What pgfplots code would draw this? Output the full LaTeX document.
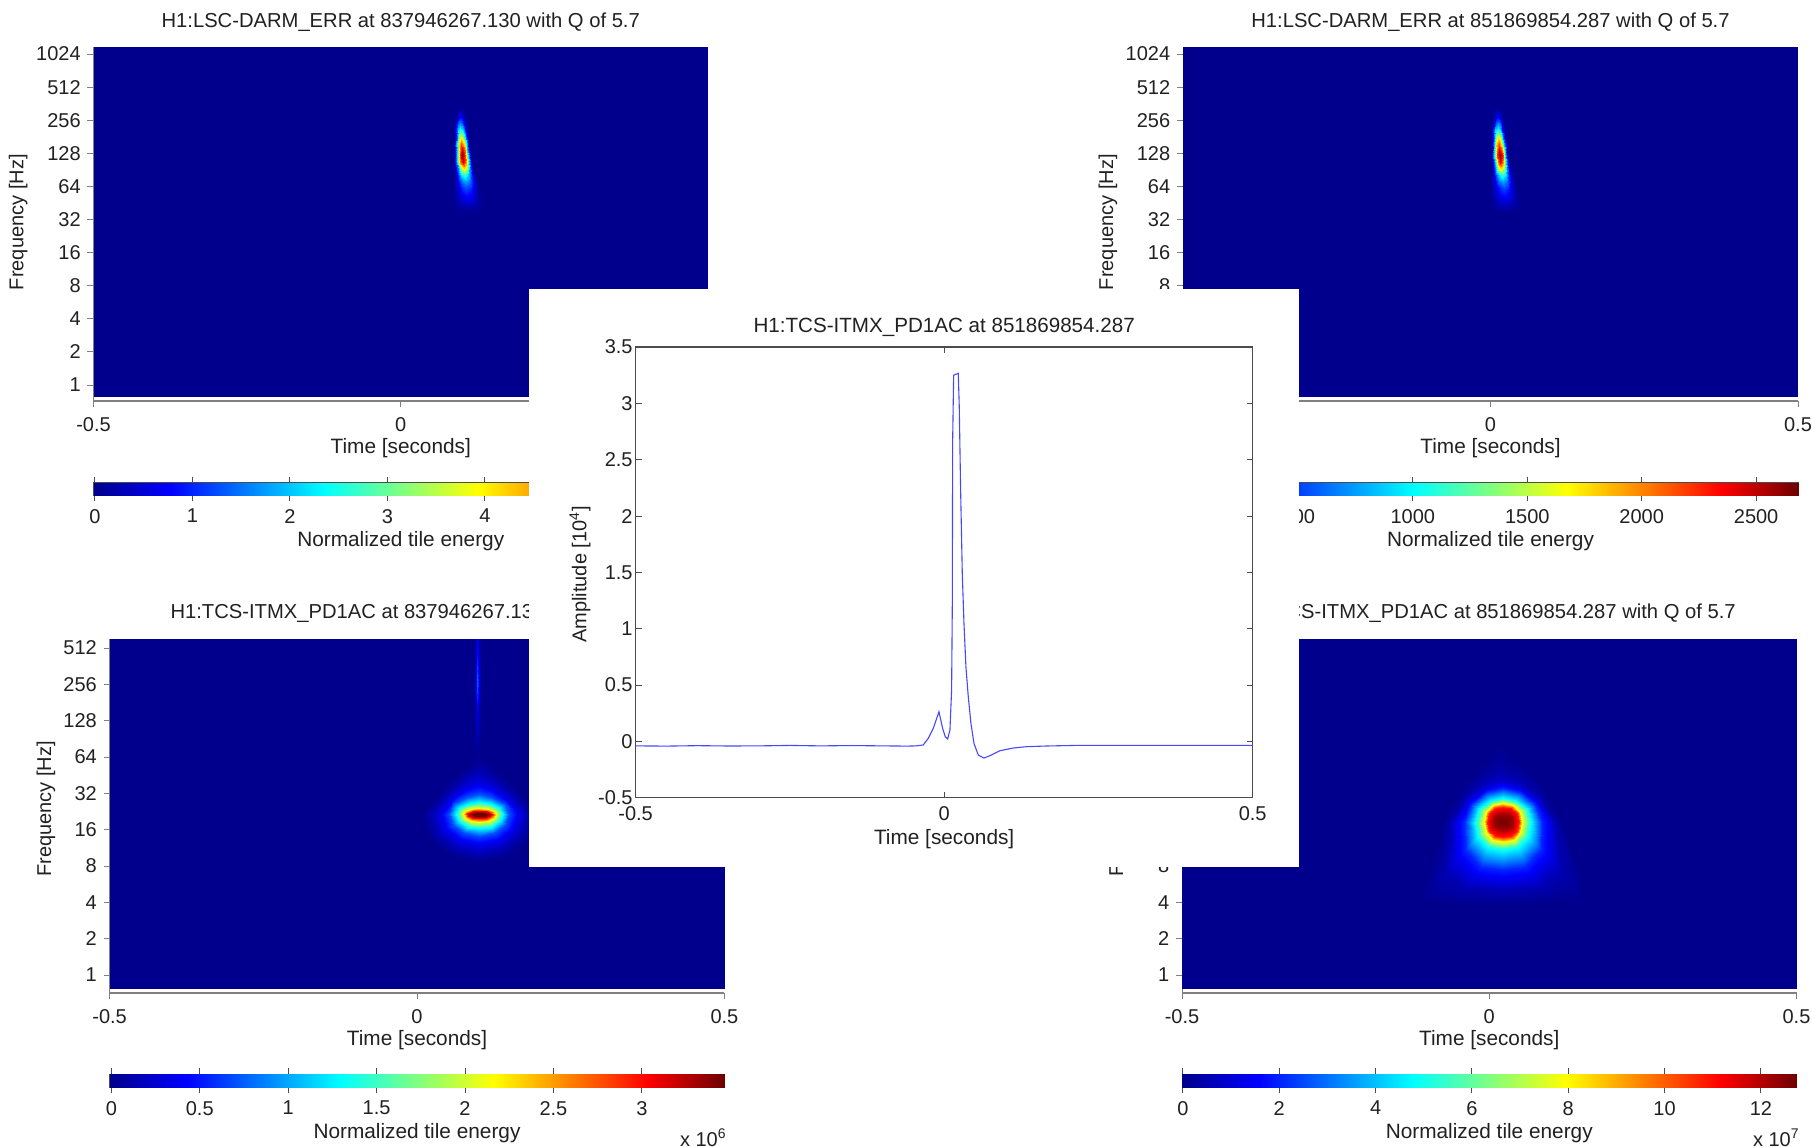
\documentclass[border=0pt]{standalone}
\usepackage{fontspec}
\setmainfont{Liberation Sans}
\usepackage{pgfplots}
\usepackage{pgfplotstable}
\pgfplotsset{compat=1.18}
\definecolor{axg}{gray}{0.5}
\definecolor{txt}{gray}{0.13}
\newcommand{\lblfont}{\fontsize{10.4}{12}\selectfont}
\pgfplotsset{
 colormap={jm}{rgb255(0cm)=(0,0,140); rgb255(1cm)=(0,0,255); rgb255(3cm)=(0,255,255); rgb255(5cm)=(255,255,0); rgb255(7cm)=(255,0,0); rgb255(8cm)=(110,0,0)},
 every axis/.append style={font=\fontsize{10}{12}\selectfont, text=txt},
 hm/.style={scale only axis, axis lines*=left, anchor=south west, colormap name=jm,
  point meta min=0, point meta max=100, xmin=-0.5, xmax=0.5,
  tick align=outside, major tick length=3pt, tick style={axg, line width=.5pt},
  x axis line style={axg, line width=1.2pt}, y axis line style={axg, line width=.4pt},
  xtick={-0.5,0,0.5}, xticklabels={-0.5,0,0.5},
  x tick label style={inner sep=0pt, anchor=north, yshift=-5pt},
  y tick label style={inner sep=0pt, anchor=east, xshift=-3.2pt},
  xlabel={Time [seconds]}, xlabel style={at={(axis description cs:0.5,0)}, anchor=center, yshift=-23.7pt, font=\lblfont},
  title style={at={(axis description cs:0.5,1)}, anchor=center, yshift=6.8pt, font=\fontsize{10.1}{12}\selectfont},
  ylabel={Frequency [Hz]}},
 top ticks/.style={ymin=-0.483, ymax=10.2, ytick={0,...,10}, yticklabels={1,2,4,8,16,32,64,128,256,512,1024}},
 low ticks/.style={ymin=-0.495, ymax=9.25, ytick={0,...,9}, yticklabels={1,2,4,8,16,32,64,128,256,512}},
 blob/.style={surf, shader=interp, point meta=explicit, forget plot},
 cb/.style={scale only axis, anchor=south west, colormap name=jm, ymin=0, ymax=1, ytick=\empty,
  axis line style={gray!60!black, line width=.4pt},
  tick align=outside, xtick pos=both, xticklabel pos=lower, major tick length=3pt,
  tick style={gray!60!black, line width=.5pt},
  x tick label style={inner sep=0pt, anchor=north, yshift=-3.85pt},
  xlabel={Normalized tile energy}, xlabel style={at={(axis description cs:0.5,0)}, anchor=center, yshift=-23pt, font=\lblfont}}
}
% blob tables: x = time [s], y = log2 frequency, z = percent of the colour scale
\pgfplotstableread[row sep=\\]{
x y z\\
.0886 8.36 0\\ .0916 8.36 0\\ .0943 8.36 0\\ .0971 8.36 0\\ .0999 8.36 0\\ .1026 8.36 0\\ .1056 8.36 0\\
.0886 8.11 0\\ .0916 8.11 4\\ .0943 8.11 10\\ .0971 8.11 12\\ .0999 8.11 10\\ .1026 8.11 4\\ .1056 8.11 0\\
.0872 7.91 0\\ .0906 7.91 9\\ .0939 7.91 21\\ .0971 7.91 25\\ .1003 7.91 21\\ .1036 7.91 9\\ .1070 7.91 0\\
.0858 7.75 0\\ .0897 7.75 14\\ .0934 7.75 31\\ .0971 7.75 38\\ .1008 7.75 31\\ .1045 7.75 14\\ .1084 7.75 0\\
.0869 7.50 0\\ .0908 7.50 22\\ .0945 7.50 51\\ .0982 7.50 62\\ .1019 7.50 51\\ .1056 7.50 22\\ .1095 7.50 0\\
.0860 7.30 0\\ .0904 7.30 28\\ .0946 7.30 64\\ .0987 7.30 78\\ .1028 7.30 64\\ .1070 7.30 28\\ .1114 7.30 0\\
.0871 7.10 0\\ .0915 7.10 33\\ .0957 7.10 76\\ .0998 7.10 93\\ .1039 7.10 76\\ .1081 7.10 33\\ .1125 7.10 0\\
.0863 6.95 0\\ .0912 6.95 36\\ .0958 6.95 82\\ .1004 6.95 100\\ .1050 6.95 82\\ .1096 6.95 36\\ .1145 6.95 0\\
.0873 6.75 0\\ .0922 6.75 33\\ .0968 6.75 75\\ .1014 6.75 92\\ .1060 6.75 75\\ .1106 6.75 33\\ .1155 6.75 0\\
.0870 6.55 0\\ .0924 6.55 24\\ .0974 6.55 56\\ .1025 6.55 68\\ .1076 6.55 56\\ .1126 6.55 24\\ .1180 6.55 0\\
.0873 6.34 0\\ .0931 6.34 15\\ .0987 6.34 34\\ .1042 6.34 42\\ .1097 6.34 34\\ .1153 6.34 15\\ .1211 6.34 0\\
.0861 6.14 0\\ .0929 6.14 10\\ .0993 6.14 23\\ .1058 6.14 28\\ .1123 6.14 23\\ .1187 6.14 10\\ .1255 6.14 0\\
.0857 5.94 0\\ .0931 5.94 7\\ .1000 5.94 16\\ .1069 5.94 20\\ .1138 5.94 16\\ .1207 5.94 7\\ .1281 5.94 0\\
.0845 5.69 0\\ .0928 5.69 4\\ .1007 5.69 10\\ .1085 5.69 12\\ .1163 5.69 10\\ .1242 5.69 4\\ .1325 5.69 0\\
.0842 5.44 0\\ .0930 5.44 2\\ .1013 5.44 4\\ .1096 5.44 5\\ .1179 5.44 4\\ .1262 5.44 2\\ .1350 5.44 0\\
.0853 5.24 0\\ .0941 5.24 0\\ .1024 5.24 0\\ .1107 5.24 0\\ .1190 5.24 0\\ .1273 5.24 0\\ .1361 5.24 0\\
}\tlblob
\pgfplotstableread[row sep=\\]{
x y z\\
.0033 8.36 0\\ .0063 8.36 0\\ .0090 8.36 0\\ .0118 8.36 0\\ .0146 8.36 0\\ .0173 8.36 0\\ .0203 8.36 0\\
.0033 8.11 0\\ .0063 8.11 4\\ .0090 8.11 10\\ .0118 8.11 12\\ .0146 8.11 10\\ .0173 8.11 4\\ .0203 8.11 0\\
.0019 7.91 0\\ .0053 7.91 9\\ .0086 7.91 21\\ .0118 7.91 25\\ .0150 7.91 21\\ .0183 7.91 9\\ .0217 7.91 0\\
.0005 7.75 0\\ .0044 7.75 14\\ .0081 7.75 31\\ .0118 7.75 38\\ .0155 7.75 31\\ .0192 7.75 14\\ .0231 7.75 0\\
.0016 7.50 0\\ .0055 7.50 22\\ .0092 7.50 51\\ .0129 7.50 62\\ .0166 7.50 51\\ .0203 7.50 22\\ .0242 7.50 0\\
.0007 7.30 0\\ .0051 7.30 28\\ .0093 7.30 64\\ .0134 7.30 78\\ .0175 7.30 64\\ .0217 7.30 28\\ .0261 7.30 0\\
.0018 7.10 0\\ .0062 7.10 33\\ .0104 7.10 76\\ .0145 7.10 93\\ .0186 7.10 76\\ .0228 7.10 33\\ .0272 7.10 0\\
.0010 6.95 0\\ .0059 6.95 36\\ .0105 6.95 82\\ .0151 6.95 100\\ .0197 6.95 82\\ .0243 6.95 36\\ .0292 6.95 0\\
.0020 6.75 0\\ .0069 6.75 33\\ .0115 6.75 75\\ .0161 6.75 92\\ .0207 6.75 75\\ .0253 6.75 33\\ .0302 6.75 0\\
.0017 6.55 0\\ .0071 6.55 24\\ .0121 6.55 56\\ .0172 6.55 68\\ .0223 6.55 56\\ .0273 6.55 24\\ .0327 6.55 0\\
.0020 6.34 0\\ .0078 6.34 15\\ .0134 6.34 34\\ .0189 6.34 42\\ .0244 6.34 34\\ .0300 6.34 15\\ .0358 6.34 0\\
.0008 6.14 0\\ .0076 6.14 10\\ .0140 6.14 23\\ .0205 6.14 28\\ .0270 6.14 23\\ .0334 6.14 10\\ .0402 6.14 0\\
.0004 5.94 0\\ .0078 5.94 7\\ .0147 5.94 16\\ .0216 5.94 20\\ .0285 5.94 16\\ .0354 5.94 7\\ .0428 5.94 0\\
-.0008 5.69 0\\ .0075 5.69 4\\ .0154 5.69 10\\ .0232 5.69 12\\ .0310 5.69 10\\ .0389 5.69 4\\ .0472 5.69 0\\
-.0011 5.44 0\\ .0077 5.44 2\\ .0160 5.44 4\\ .0243 5.44 5\\ .0326 5.44 4\\ .0409 5.44 2\\ .0497 5.44 0\\
.0000 5.24 0\\ .0088 5.24 0\\ .0171 5.24 0\\ .0254 5.24 0\\ .0337 5.24 0\\ .0420 5.24 0\\ .0508 5.24 0\\
}\trblob
\pgfplotstableread[row sep=\\]{
x y z\\
.1013 4.42 100\\ .1013 4.42 100\\ .1013 4.42 100\\ .1013 4.42 100\\ .1013 4.42 100\\ .1013 4.42 100\\ .1013 4.42 100\\ .1013 4.42 100\\ .1013 4.42 100\\ .1013 4.42 100\\ .1013 4.42 100\\ .1013 4.42 100\\ .1013 4.42 100\\
.1132 4.42 100\\ .1116 4.438 100\\ .1073 4.452 100\\ .1013 4.457 100\\ .0953 4.452 100\\ .0910 4.438 100\\ .0894 4.42 100\\ .0910 4.402 100\\ .0953 4.388 100\\ .1013 4.383 100\\ .1073 4.388 100\\ .1116 4.402 100\\ .1132 4.42 100\\
.1219 4.42 88\\ .1191 4.47 88\\ .1116 4.507 88\\ .1013 4.521 88\\ .0910 4.507 88\\ .0835 4.47 88\\ .0807 4.42 88\\ .0835 4.37 88\\ .0910 4.333 88\\ .1013 4.319 88\\ .1116 4.333 88\\ .1191 4.37 88\\ .1219 4.42 88\\
.1284 4.42 62\\ .1248 4.512 62\\ .1149 4.579 62\\ .1013 4.603 62\\ .0877 4.579 62\\ .0778 4.512 62\\ .0742 4.42 62\\ .0778 4.319 62\\ .0877 4.245 62\\ .1013 4.218 62\\ .1149 4.245 62\\ .1248 4.319 62\\ .1284 4.42 62\\
.1392 4.42 38\\ .1341 4.594 38\\ .1203 4.721 38\\ .1013 4.768 38\\ .0823 4.721 38\\ .0685 4.594 38\\ .0634 4.42 38\\ .0685 4.227 38\\ .0823 4.086 38\\ .1013 4.035 38\\ .1203 4.086 38\\ .1341 4.227 38\\ .1392 4.42 38\\
.1501 4.42 20\\ .1436 4.704 20\\ .1208 4.913 20\\ .1013 4.989 20\\ .0818 4.913 20\\ .0590 4.704 20\\ .0525 4.42 20\\ .0590 4.122 20\\ .0769 3.904 20\\ .1013 3.824 20\\ .1257 3.904 20\\ .1436 4.122 20\\ .1501 4.42 20\\
.1653 4.42 10\\ .1456 4.842 10\\ .1205 5.151 10\\ .1013 5.264 10\\ .0821 5.151 10\\ .0570 4.842 10\\ .0373 4.42 10\\ .0459 3.998 10\\ .0693 3.689 10\\ .1013 3.576 10\\ .1333 3.689 10\\ .1567 3.998 10\\ .1653 4.42 10\\
.1799 4.42 4\\ .1524 5.016 4\\ .1190 5.452 4\\ .1013 5.612 4\\ .0836 5.452 4\\ .0502 5.016 4\\ .0227 4.42 4\\ .0332 3.879 4\\ .0620 3.483 4\\ .1013 3.338 4\\ .1406 3.483 4\\ .1694 3.879 4\\ .1799 4.42 4\\
.1962 4.42 0\\ .1547 5.222 0\\ .1179 5.81 0\\ .1013 6.025 0\\ .0847 5.81 0\\ .0479 5.222 0\\ .0064 4.42 0\\ .0191 3.755 0\\ .0539 3.268 0\\ .1013 3.09 0\\ .1487 3.268 0\\ .1835 3.755 0\\ .1962 4.42 0\\
}\blblob
\pgfplotstableread[row sep=\\]{
x y z\\
.0926 9.25 0\\ .0958 9.25 4\\ .098 9.25 10\\ .1002 9.25 4\\ .1034 9.25 0\\
.0926 8.76 0\\ .0958 8.76 6\\ .098 8.76 14\\ .1002 8.76 6\\ .1034 8.76 0\\
.0926 8.30 0\\ .0958 8.30 9\\ .098 8.30 20\\ .1002 8.30 9\\ .1034 8.30 0\\
.0926 8.03 0\\ .0958 8.03 10\\ .098 8.03 22\\ .1002 8.03 10\\ .1034 8.03 0\\
.0926 7.66 0\\ .0958 7.66 8\\ .098 7.66 17\\ .1002 7.66 8\\ .1034 7.66 0\\
.0926 7.39 0\\ .0958 7.39 4\\ .098 7.39 10\\ .1002 7.39 4\\ .1034 7.39 0\\
.0926 7.02 0\\ .0958 7.02 4\\ .098 7.02 8\\ .1002 7.02 4\\ .1034 7.02 0\\
.0926 6.47 0\\ .0958 6.47 2\\ .098 6.47 4\\ .1002 6.47 2\\ .1034 6.47 0\\
.0926 6.01 0\\ .0958 6.01 0\\ .098 6.01 0\\ .1002 6.01 0\\ .1034 6.01 0\\
}\blstreak
\pgfplotstableread[row sep=\\]{
x y z\\
.0223 4.22 100\\ .0223 4.22 100\\ .0223 4.22 100\\ .0223 4.22 100\\ .0223 4.22 100\\ .0223 4.22 100\\ .0223 4.22 100\\ .0223 4.22 100\\ .0223 4.22 100\\ .0223 4.22 100\\ .0223 4.22 100\\ .0223 4.22 100\\ .0223 4.22 100\\
.0375 4.22 96\\ .0364 4.339 96\\ .0304 4.403 96\\ .0223 4.422 96\\ .0142 4.403 96\\ .0082 4.339 96\\ .0071 4.22 96\\ .0082 4.101 96\\ .0142 4.037 96\\ .0223 4.018 96\\ .0304 4.037 96\\ .0364 4.101 96\\ .0375 4.22 96\\
.0478 4.22 85\\ .0451 4.449 85\\ .0359 4.587 85\\ .0223 4.614 85\\ .0087 4.587 85\\ -.0005 4.449 85\\ -.0032 4.22 85\\ -.0005 3.972 85\\ .0087 3.835 85\\ .0223 3.807 85\\ .0359 3.835 85\\ .0451 3.972 85\\ .0478 4.22 85\\
.0537 4.22 62\\ .0505 4.495 62\\ .0386 4.679 62\\ .0223 4.734 62\\ .0060 4.679 62\\ -.0059 4.495 62\\ -.0091 4.22 62\\ -.0059 3.927 62\\ .0050 3.725 62\\ .0223 3.67 62\\ .0396 3.725 62\\ .0505 3.927 62\\ .0537 4.22 62\\
.0684 4.22 38\\ .0613 4.568 38\\ .0440 4.789 38\\ .0223 4.862 38\\ .0006 4.789 38\\ -.0167 4.568 38\\ -.0238 4.22 38\\ -.0184 3.807 38\\ -.0021 3.532 38\\ .0223 3.441 38\\ .0467 3.532 38\\ .0630 3.807 38\\ .0684 4.22 38\\
.0863 4.22 16\\ .0738 4.697 16\\ .0494 5.027 16\\ .0223 5.137 16\\ -.0048 5.027 16\\ -.0292 4.697 16\\ -.0417 4.22 16\\ -.04 3.441 16\\ -.0129 2.982 16\\ .0223 2.89 16\\ .0575 2.982 16\\ .0846 3.441 16\\ .0863 4.22 16\\
.0982 4.22 10\\ .0792 4.789 9\\ .0483 5.183 8\\ .0223 5.366 6\\ -.0037 5.183 8\\ -.0346 4.789 9\\ -.0536 4.22 10\\ -.0536 3.211 10\\ -.0238 2.707 10\\ .0223 2.615 10\\ .0684 2.707 10\\ .0982 3.211 10\\ .0982 4.22 10\\
.1063 4.22 4\\ .0792 4.999 3\\ .0467 5.458 3\\ .0223 5.733 2\\ -.0021 5.458 3\\ -.0346 4.999 3\\ -.0617 4.22 4\\ -.0726 2.799 4\\ -.0373 2.386 4\\ .0223 2.294 4\\ .0819 2.386 4\\ .1172 2.799 4\\ .1063 4.22 4\\
.1199 4.22 0\\ .0846 5.275 0\\ .0467 5.916 0\\ .0223 6.421 0\\ -.0021 5.916 0\\ -.04 5.275 0\\ -.0753 4.22 0\\ -.1132 2.065 0\\ -.0671 1.973 0\\ .0223 1.927 0\\ .1117 1.973 0\\ .1578 2.065 0\\ .1199 4.22 0\\
}\brblob
\begin{document}
\begin{tikzpicture}
\clip (0pt,0pt) rectangle (906pt,-573.5pt);
\fill[white] (0pt,0pt) rectangle (906pt,-573.5pt);
% top left
\begin{axis}[hm, top ticks, at={(46.75pt,-200.5pt)}, width=307.25pt, height=176.8pt,
  title={H1:LSC-DARM\_ERR at 837946267.130 with Q of 5.7},
  ylabel style={at={(axis description cs:0,0.5)}, anchor=center, yshift=37.6pt, xshift=1pt}]
\addplot[blob, mesh/cols=2] table[meta=z, row sep=\\] {x y z\\ -0.5 -0.332 0\\ 0.5 -0.332 0\\ -0.5 10.2 0\\ 0.5 10.2 0\\};
\addplot[blob, mesh/cols=7] table[meta=z] {\tlblob};
\end{axis}
\begin{axis}[cb, at={(46.75pt,-247.5pt)}, width=307.25pt, height=6.15pt, xmin=-0.015, xmax=6.29,
  point meta min=-0.015, point meta max=6.29, xtick={0,...,6}, xticklabels={0,1,2,3,4,5,6}]
\addplot[blob, mesh/cols=2] table[meta=z, row sep=\\] {x y z\\ -0.015 0 -0.015\\ 6.29 0 6.29\\ -0.015 1 -0.015\\ 6.29 1 6.29\\};
\end{axis}
% top right
\begin{axis}[hm, top ticks, at={(591.5pt,-200.5pt)}, width=307.5pt, height=176.8pt,
  title={H1:LSC-DARM\_ERR at 851869854.287 with Q of 5.7},
  ylabel style={at={(axis description cs:0,0.5)}, anchor=center, yshift=37.5pt, xshift=1pt}]
\addplot[blob, mesh/cols=2] table[meta=z, row sep=\\] {x y z\\ -0.5 -0.332 0\\ 0.5 -0.332 0\\ -0.5 10.2 0\\ 0.5 10.2 0\\};
\addplot[blob, mesh/cols=7] table[meta=z] {\trblob};
\end{axis}
\begin{axis}[cb, at={(591.5pt,-247.5pt)}, width=307.5pt, height=6.15pt, xmin=-4.4, xmax=2683,
  point meta min=-4.4, point meta max=2683, xtick={0,500,1000,1500,2000,2500}, xticklabels={0,500,1000,1500,2000,2500}]
\addplot[blob, mesh/cols=2] table[meta=z, row sep=\\] {x y z\\ -4.4 0 -4.4\\ 2683 0 2683\\ -4.4 1 -4.4\\ 2683 1 2683\\};
\end{axis}
% bottom left
\begin{axis}[hm, low ticks, at={(54.8pt,-496.5pt)}, width=307.4pt, height=177pt,
  title={H1:TCS-ITMX\_PD1AC at 837946267.130 with Q of 5.7},
  ylabel style={at={(axis description cs:0,0.5)}, anchor=center, yshift=31.8pt, xshift=3.5pt}]
\addplot[blob, mesh/cols=2] table[meta=z, row sep=\\] {x y z\\ -0.5 -0.358 0\\ 0.5 -0.358 0\\ -0.5 9.25 0\\ 0.5 9.25 0\\};
\addplot[blob, mesh/cols=13] table[meta=z] {\blblob};
\addplot[blob, mesh/cols=5] table[meta=z] {\blstreak};
\end{axis}
\begin{axis}[cb, at={(54.8pt,-543.5pt)}, width=307.4pt, height=6.5pt, xmin=-0.01, xmax=3.467,
  point meta min=-0.01, point meta max=3.467, xtick={0,0.5,1,1.5,2,2.5,3}, xticklabels={0,0.5,1,1.5,2,2.5,3}]
\addplot[blob, mesh/cols=2] table[meta=z, row sep=\\] {x y z\\ -0.01 0 -0.01\\ 3.467 0 3.467\\ -0.01 1 -0.01\\ 3.467 1 3.467\\};
\end{axis}
\node[anchor=base east, text=txt, font=\fontsize{10}{12}\selectfont, inner sep=0pt] at (363.5pt,-573pt) {x 10\textsuperscript{6}};
% bottom right
\begin{axis}[hm, low ticks, at={(591pt,-496.5pt)}, width=307.25pt, height=177pt,
  title={H1:TCS-ITMX\_PD1AC at 851869854.287 with Q of 5.7},
  ylabel style={at={(axis description cs:0,0.5)}, anchor=center, yshift=32pt, xshift=3.5pt}]
\addplot[blob, mesh/cols=2] table[meta=z, row sep=\\] {x y z\\ -0.5 -0.358 0\\ 0.5 -0.358 0\\ -0.5 9.25 0\\ 0.5 9.25 0\\};
\addplot[blob, mesh/cols=13] table[meta=z] {\brblob};
\end{axis}
\begin{axis}[cb, at={(591pt,-543.5pt)}, width=307.25pt, height=6.5pt, xmin=-0.02, xmax=12.74,
  point meta min=-0.02, point meta max=12.74, xtick={0,2,4,6,8,10,12}, xticklabels={0,2,4,6,8,10,12}]
\addplot[blob, mesh/cols=2] table[meta=z, row sep=\\] {x y z\\ -0.02 0 -0.02\\ 12.74 0 12.74\\ -0.02 1 -0.02\\ 12.74 1 12.74\\};
\end{axis}
\node[anchor=base east, text=txt, font=\fontsize{10}{12}\selectfont, inner sep=0pt] at (900pt,-573pt) {x 10\textsuperscript{7}};
% white inset panel
\fill[white] (264.5pt,-144.5pt) rectangle (649.5pt,-433.5pt);
\begin{axis}[scale only axis, anchor=south west, at={(317.8pt,-398.85pt)}, width=308.55pt, height=225.35pt,
  xmin=-0.5, xmax=0.5, ymin=-0.5, ymax=3.5,
  xtick={-0.5,0,0.5}, xticklabels={-0.5,0,0.5},
  ytick={-0.5,0,0.5,1,1.5,2,2.5,3,3.5}, yticklabels={-0.5,0,0.5,1,1.5,2,2.5,3,3.5},
  axis line style={gray!60!black, line width=.7pt}, tick style={gray!60!black, line width=.5pt},
  tick align=inside, major tick length=3pt,
  x tick label style={inner sep=0pt, anchor=north, yshift=-4.4pt},
  y tick label style={inner sep=0pt, anchor=east, xshift=-1.3pt},
  title={H1:TCS-ITMX\_PD1AC at 851869854.287},
  title style={at={(axis description cs:0.5,1)}, anchor=center, yshift=4pt, font=\fontsize{10.3}{12}\selectfont},
  xlabel={Time [seconds]}, xlabel style={at={(axis description cs:0.5,0)}, anchor=center, yshift=-20.7pt, font=\lblfont},
  ylabel={Amplitude [10\textsuperscript{4}]}, ylabel style={at={(axis description cs:0,0.5)}, anchor=center, yshift=27.8pt, xshift=-1pt}]
\addplot[color=blue!72!white, line width=.55pt] coordinates {
(-0.5,-.04)(-.45,-.042)(-.4,-.038)(-.35,-.041)(-.3,-.04)(-.25,-.036)(-.2,-.04)(-.15,-.037)(-.1,-.04)(-.06,-.042)(-.045,-.04)(-.0339,-.032)
(-.0257,.027)(-.0176,.116)(-.0084,.263)(-.0025,.116)(.0018,.041)(.0056,.021)(.0094,.101)(.0121,.456)(.0132,1.195)(.0138,2.674)(.0154,3.25)(.0229,3.266)
(.0245,2.97)(.0267,2.23)(.0294,1.49)(.0321,1.05)(.0353,.662)(.0391,.396)(.0434,.16)(.0483,-.018)(.0553,-.121)(.0645,-.148)(.0742,-.127)(.0904,-.083)
(.112,-.059)(.1337,-.047)(.166,-.041)(.22,-.035)(.3,-.036)(.4,-.035)(.5,-.036)};
\end{axis}
\end{tikzpicture}
\end{document}
